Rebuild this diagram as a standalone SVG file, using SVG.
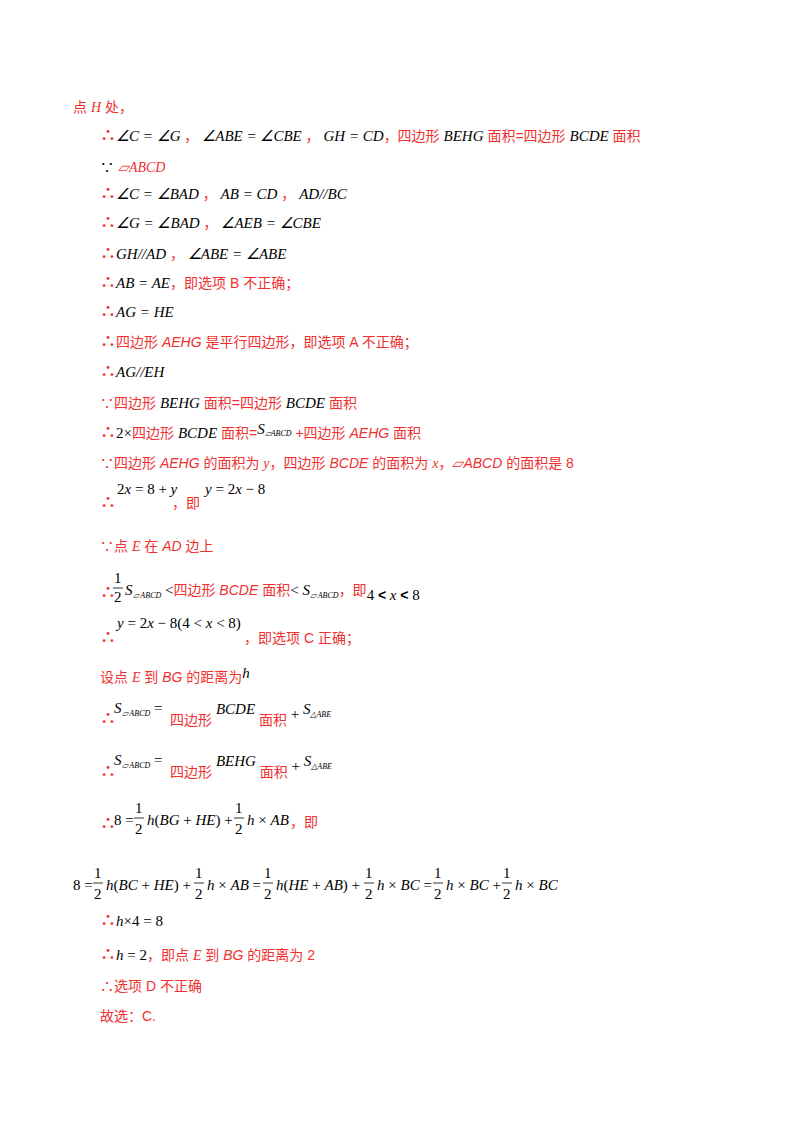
<svg xmlns="http://www.w3.org/2000/svg" width="800" height="1132" viewBox="0 0 800 1132">
<style>
text{font-size:14px;fill:#f03030;font-family:"Liberation Sans","Noto Sans CJK SC",sans-serif}
.m{fill:#000;font-family:"Liberation Serif",serif;font-style:italic;font-size:15px}
.n{fill:#000;font-family:"Liberation Serif",serif;font-size:15px}
.ri{font-family:"Liberation Serif",serif;font-style:italic}
.rb{font-family:"Liberation Sans",sans-serif;font-style:italic}
.s{font-size:8px}
.d{font-size:16px;font-weight:bold}
line{stroke:#000;stroke-width:0.8}
</style>
<rect width="800" height="1132" fill="#fff"/>
<g id="content">
<text x="73" y="112">点 <tspan class="ri">H</tspan> 处，</text>
<text x="100" y="141"><tspan class="d">∴</tspan><tspan class="m">∠C = ∠G</tspan> ， <tspan class="m">∠ABE = ∠CBE</tspan> ， <tspan class="m">GH = CD</tspan>，四边形 <tspan class="m">BEHG</tspan> 面积=四边形 <tspan class="m">BCDE</tspan> 面积</text>
<text x="100" y="172"><tspan fill="#000">∵</tspan> <tspan class="ri">▱ABCD</tspan></text>
<text x="100" y="199"><tspan class="d">∴</tspan><tspan class="m">∠C = ∠BAD</tspan> ， <tspan class="m">AB = CD</tspan> ， <tspan class="m">AD//BC</tspan></text>
<text x="100" y="228"><tspan class="d">∴</tspan><tspan class="m">∠G = ∠BAD</tspan> ， <tspan class="m">∠AEB = ∠CBE</tspan></text>
<text x="100" y="259"><tspan class="d">∴</tspan><tspan class="m">GH//AD</tspan> ， <tspan class="m">∠ABE = ∠ABE</tspan></text>
<text x="100" y="288"><tspan class="d">∴</tspan><tspan class="m">AB = AE</tspan>，即选项 B 不正确；</text>
<text x="100" y="317"><tspan class="d">∴</tspan><tspan class="m">AG = HE</tspan></text>
<text x="100" y="347"><tspan class="d">∴</tspan>四边形 <tspan class="rb">AEHG</tspan> 是平行四边形，即选项 A 不正确；</text>
<text x="100" y="377"><tspan class="d">∴</tspan><tspan class="m">AG//EH</tspan></text>
<text x="100" y="408">∵四边形 <tspan class="m">BEHG</tspan> 面积=四边形 <tspan class="m">BCDE</tspan> 面积</text>
<text x="100" y="438"><tspan class="d">∴</tspan><tspan class="n">2×</tspan>四边形 <tspan class="m">BCDE</tspan> 面积=<tspan class="m" dy="-4">S</tspan><tspan class="m s" dy="2">▱ABCD</tspan><tspan dy="2"> +四边形 </tspan><tspan class="rb">AEHG</tspan> 面积</text>
<text x="100" y="468">∵四边形 <tspan class="rb">AEHG</tspan> 的面积为 <tspan class="ri">y</tspan>，四边形 <tspan class="rb">BCDE</tspan> 的面积为 <tspan class="ri">x</tspan>，<tspan class="rb">▱ABCD</tspan> 的面积是 8</text>
<text x="100" y="508"><tspan class="d">∴</tspan></text>
<text x="117" y="494" class="n">2<tspan class="m">x</tspan> = 8 + <tspan class="m">y</tspan></text>
<text x="172" y="508">，即</text>
<text x="205" y="494" class="n"><tspan class="m">y</tspan> = 2<tspan class="m">x</tspan> − 8</text>
<text x="100" y="551">∵点 <tspan class="ri">E</tspan> 在 <tspan class="rb">AD</tspan> 边上</text>
<text x="100" y="598"><tspan class="d">∴</tspan></text>
<text x="114" y="583" class="n">1</text><line x1="113" y1="588" x2="123" y2="588"/><text x="114" y="602" class="n">2</text>
<text x="125" y="595"><tspan class="m">S</tspan><tspan class="m s" dy="3">▱ ABCD</tspan><tspan class="n" dy="-3"> &lt;</tspan>四边形 <tspan class="rb">BCDE</tspan> 面积<tspan class="n">&lt; </tspan><tspan class="m" font-size="17">S</tspan><tspan class="m s" dy="3">▱ ABCD</tspan><tspan dy="-3">，即</tspan><tspan class="n" dy="5">4 </tspan><tspan font-weight="bold" fill="#000">&lt;</tspan><tspan class="m"> x </tspan><tspan font-weight="bold" fill="#000">&lt;</tspan><tspan class="n"> 8</tspan></text>
<text x="100" y="643"><tspan class="d">∴</tspan></text>
<text x="117" y="628" class="n"><tspan class="m">y</tspan> = 2<tspan class="m">x</tspan> − 8(4 &lt; <tspan class="m">x</tspan> &lt; 8)</text>
<text x="244" y="643">，即选项 C 正确；</text>
<text x="100" y="682">设点 <tspan class="ri">E</tspan> 到 <tspan class="rb">BG</tspan> 的距离为<tspan class="m" dy="-4">h</tspan></text>
<text x="100" y="724"><tspan class="d">∴</tspan></text>
<text x="114" y="713"><tspan class="m" font-size="17">S</tspan><tspan class="m s" dy="3">▱ ABCD</tspan><tspan class="n" dy="-3"> =</tspan></text>
<text x="170" y="725">四边形 <tspan class="m" dy="-11">BCDE</tspan><tspan dy="11"> 面积</tspan><tspan class="n" dy="-6"> + </tspan><tspan class="m" font-size="17" dy="-5">S</tspan><tspan class="m s" dy="3">△ABE</tspan></text>
<text x="100" y="777"><tspan class="d">∴</tspan></text>
<text x="114" y="765"><tspan class="m" font-size="17">S</tspan><tspan class="m s" dy="3">▱ ABCD</tspan><tspan class="n" dy="-3"> =</tspan></text>
<text x="170" y="777">四边形 <tspan class="m" dy="-11">BEHG</tspan><tspan dy="11"> 面积</tspan><tspan class="n" dy="-6"> + </tspan><tspan class="m" font-size="17" dy="-5">S</tspan><tspan class="m s" dy="3">△ABE</tspan></text>
<text x="100" y="829"><tspan class="d">∴</tspan></text>
<text x="114" y="825" class="n">8 =</text>
<text x="135" y="813" class="n">1</text><line x1="134" y1="818" x2="144" y2="818"/><text x="135" y="834" class="n">2</text>
<text x="147" y="825" class="n"><tspan class="m">h</tspan>(<tspan class="m">BG</tspan> + <tspan class="m">HE</tspan>) +</text>
<text x="235" y="813" class="n">1</text><line x1="234" y1="818" x2="244" y2="818"/><text x="235" y="834" class="n">2</text>
<text x="247" y="825" class="n"><tspan class="m">h</tspan> × <tspan class="m">AB</tspan></text>
<text x="290" y="827">，即</text>
<g id="long">
<text x="73" y="890" class="n">8 =</text>
<text x="94" y="878" class="n">1</text><line x1="93" y1="883" x2="103" y2="883"/><text x="94" y="899" class="n">2</text>
<text x="106" y="890" class="n"><tspan class="m">h</tspan>(<tspan class="m">BC</tspan> + <tspan class="m">HE</tspan>) +</text>
<text x="195" y="878" class="n">1</text><line x1="194" y1="883" x2="204" y2="883"/><text x="195" y="899" class="n">2</text>
<text x="207" y="890" class="n"><tspan class="m">h</tspan> × <tspan class="m">AB</tspan> =</text>
<text x="264" y="878" class="n">1</text><line x1="263" y1="883" x2="273" y2="883"/><text x="264" y="899" class="n">2</text>
<text x="276" y="890" class="n"><tspan class="m">h</tspan>(<tspan class="m">HE</tspan> + <tspan class="m">AB</tspan>) +</text>
<text x="365" y="878" class="n">1</text><line x1="364" y1="883" x2="374" y2="883"/><text x="365" y="899" class="n">2</text>
<text x="377" y="890" class="n"><tspan class="m">h</tspan> × <tspan class="m">BC</tspan> =</text>
<text x="434" y="878" class="n">1</text><line x1="433" y1="883" x2="443" y2="883"/><text x="434" y="899" class="n">2</text>
<text x="446" y="890" class="n"><tspan class="m">h</tspan> × <tspan class="m">BC</tspan> +</text>
<text x="503" y="878" class="n">1</text><line x1="502" y1="883" x2="512" y2="883"/><text x="503" y="899" class="n">2</text>
<text x="515" y="890" class="n"><tspan class="m">h</tspan> × <tspan class="m">BC</tspan></text>
</g>
<text x="100" y="926"><tspan class="d">∴</tspan><tspan class="m">h</tspan><tspan class="n">×4 = 8</tspan></text>
<text x="100" y="960"><tspan class="d">∴</tspan><tspan class="m">h</tspan><tspan class="n"> = 2</tspan>，即点 <tspan class="ri">E</tspan> 到 <tspan class="rb">BG</tspan> 的距离为 2</text>
<text x="100" y="991">∴选项 D 不正确</text>
<text x="100" y="1021">故选：C.</text>
</g>
</svg>
